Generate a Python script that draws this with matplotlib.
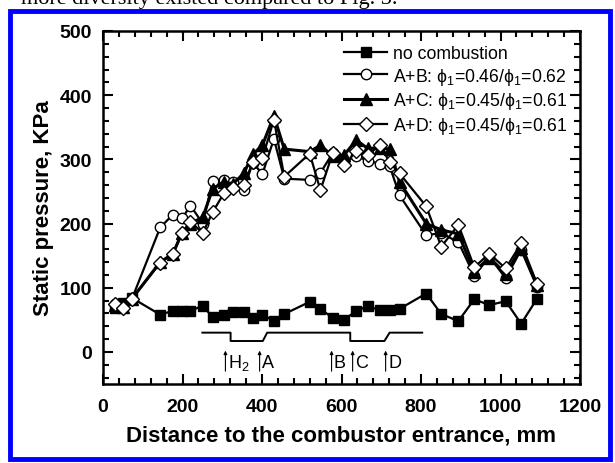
import matplotlib
matplotlib.use("Agg")
import matplotlib.pyplot as plt
from matplotlib.ticker import MultipleLocator
from matplotlib.patches import Rectangle

plt.rcParams['font.family'] = ['Liberation Sans', 'DejaVu Sans']
plt.rcParams['mathtext.fontset'] = 'custom'
plt.rcParams['mathtext.rm'] = 'Liberation Sans'
plt.rcParams['mathtext.it'] = 'Liberation Sans:italic'

# Measurement positions (mm) and static pressure (kPa)
x_cold = [30, 50, 73, 144, 176, 199, 220, 251, 276, 304, 327, 354, 377, 401, 430,
          456, 520, 547, 578, 607, 637, 666, 697, 721, 746, 813, 851, 894, 934,
          972, 1013, 1052, 1092]
p_cold = [68, 76, 84, 58, 64, 64, 64, 72, 54, 58, 62, 62, 53, 58, 48,
          59, 78, 67, 53, 50, 64, 71, 65, 66, 67, 91, 59, 48, 82,
          73, 79, 44, 83]

x_hot = [30, 50, 73, 144, 176, 199, 220, 251, 276, 304, 327, 354, 377, 401, 430,
         456, 520, 547, 578, 607, 637, 666, 697, 721, 746, 813, 851, 894, 934,
         972, 1013, 1052, 1092]
p_ab = [75, 70, 83, 194, 214, 208, 228, 200, 267, 268, 265, 253, 295, 277, 332,
        270, 268, 279, 310, 296, 305, 298, 293, 290, 244, 182, 185, 171, 119,
        148, 115, 159, 101]
p_ac = [73, 70, 83, 140, 153, 186, 200, 210, 254, 265, 262, 278, 308, 322, 368,
        316, 312, 322, 305, 307, 330, 317, 318, 316, 265, 200, 190, 184, 125,
        147, 122, 162, 104]
p_ad = [75, 68, 83, 139, 153, 186, 203, 185, 218, 247, 255, 260, 296, 302, 362,
        273, 309, 252, 310, 291, 313, 307, 322, 296, 278, 227, 164, 198, 132,
        153, 130, 169, 106]

labels = ['no combustion',
          r'A+B: $\mathrm{\phi_1}$=0.46/$\mathrm{\phi_1}$=0.62',
          r'A+C: $\mathrm{\phi_1}$=0.45/$\mathrm{\phi_1}$=0.61',
          r'A+D: $\mathrm{\phi_1}$=0.45/$\mathrm{\phi_1}$=0.61']

# Combustor wall outline and injector stations
wall_x = [250, 321, 321, 402, 413, 622, 622, 708, 721, 803]
wall_y = [30, 30, 17, 17, 30, 30, 17, 17, 30, 30]
inj_x = [308, 394, 575, 628, 711]
inj_labels = ['H$_2$', 'A', 'B', 'C', 'D']

fig = plt.figure(figsize=(6.15, 4.64), dpi=100)
ax = fig.add_axes([103 / 615, 1 - 385 / 464, 477 / 615, 353 / 464])

lw = 1.6
ms = 7
ax.plot(x_cold, p_cold, '-', color='k', lw=lw, marker='s', ms=ms,
        mfc='k', mec='k', label=labels[0])
ax.plot(x_hot, p_ab, '-', color='k', lw=lw, marker='o', ms=ms + 0.5,
        mfc='white', mec='k', mew=1.0, label=labels[1])
ax.plot(x_hot, p_ac, '-', color='k', lw=lw + 0.6, marker='^', ms=ms + 1,
        mfc='k', mec='k', label=labels[2])
ax.plot(x_hot, p_ad, '-', color='k', lw=lw, marker='D', ms=ms,
        mfc='white', mec='k', mew=1.0, label=labels[3])

ax.plot(wall_x, wall_y, '-', color='k', lw=1.4)
for xi, lab in zip(inj_x, inj_labels):
    ax.annotate('', xy=(xi, 2), xytext=(xi, -30),
                arrowprops=dict(arrowstyle='-|>', lw=0.8, color='k',
                                mutation_scale=5, shrinkA=0, shrinkB=0))
    ax.text(xi + 6, -16, lab, fontsize=13, ha='left', va='center')

ax.set_xlim(0, 1200)
ax.set_ylim(-50, 500)
ax.xaxis.set_major_locator(MultipleLocator(200))
ax.xaxis.set_minor_locator(MultipleLocator(40))
ax.yaxis.set_major_locator(MultipleLocator(100))
ax.yaxis.set_minor_locator(MultipleLocator(20))
ax.set_yticks([0, 100, 200, 300, 400, 500])
ax.tick_params(which='both', direction='in', top=True, right=True, width=1.5)
ax.tick_params(which='major', length=7, labelsize=14)
ax.tick_params(axis='x', which='major', pad=10)
ax.tick_params(axis='y', which='major', pad=8)
ax.tick_params(which='minor', length=4)
for t in ax.get_xticklabels() + ax.get_yticklabels():
    t.set_fontweight('bold')
for s in ax.spines.values():
    s.set_linewidth(1.8)

ax.set_xlabel('Distance to the combustor entrance, mm', fontsize=16,
              fontweight='bold', labelpad=7)
ax.set_ylabel('Static pressure, KPa', fontsize=16, fontweight='bold', labelpad=4)

ax.legend(loc='upper right', bbox_to_anchor=(1.0, 0.995), frameon=False,
          fontsize=12.7, handlelength=2.4, handletextpad=0.35, labelspacing=0.2,
          borderaxespad=0.3)

# Page border and running text above the figure
fig.patches.append(Rectangle((10 / 615, 4 / 464), 600 / 615, 448 / 464,
                             transform=fig.transFigure, fill=False,
                             edgecolor='#0000ff', lw=3.5))
fig.text(21 / 615, 1 - 4 / 464, 'more diversity existed compared to Fig. 3.',
         fontsize=16, family='Liberation Serif', ha='left', va='baseline')

fig.savefig('out.png', dpi=100)
